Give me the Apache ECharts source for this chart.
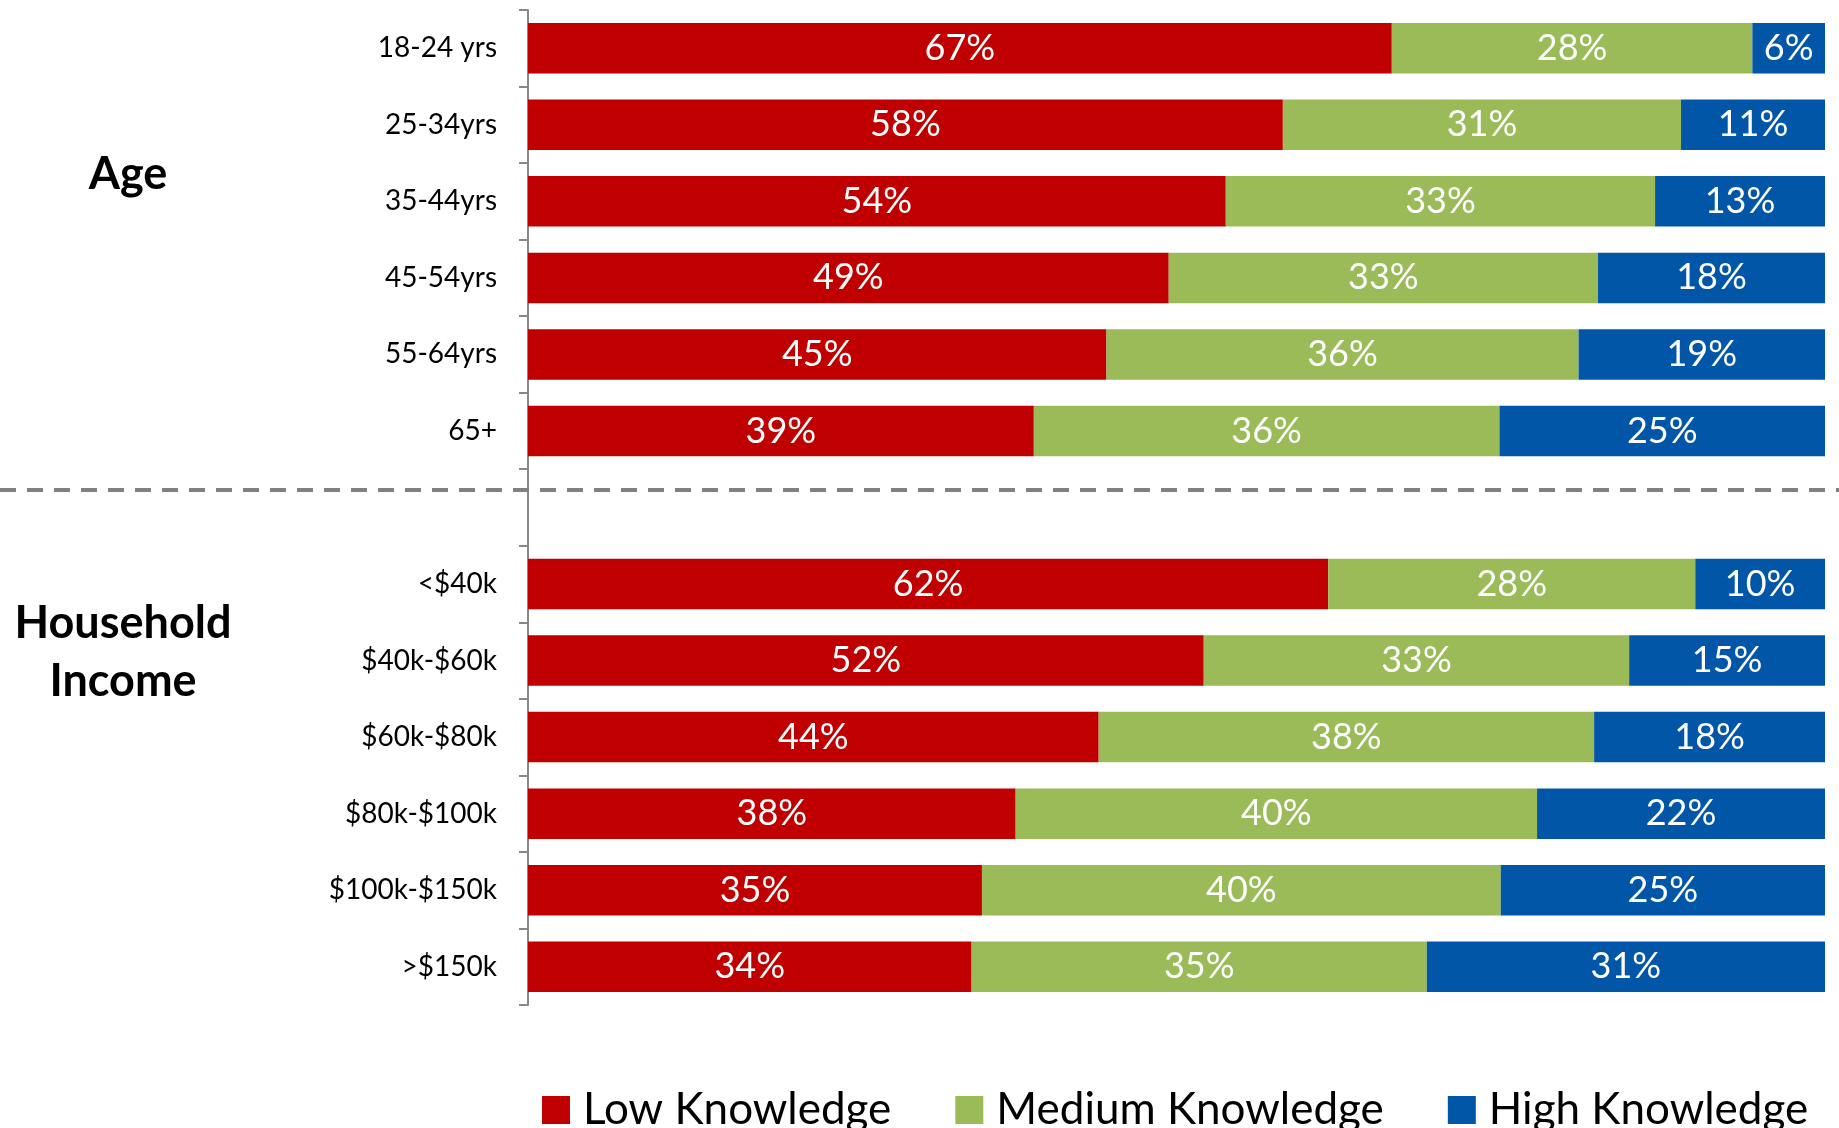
<!DOCTYPE html>
<html>
<head>
<meta charset="utf-8">
<script src="https://cdn.jsdelivr.net/npm/echarts@6/dist/echarts.min.js"></script>
<style>
html,body{margin:0;padding:0;background:#fff;}
#chart{width:1839px;height:1128px;}
</style>
</head>
<body>
<div id="chart"></div>
<script>
// Categories
const ageCats = ['18-24 yrs', '25-34yrs', '35-44yrs', '45-54yrs', '55-64yrs', '65+'];
const incomeCats = ['<$40k', '$40k-$60k', '$60k-$80k', '$80k-$100k', '$100k-$150k', '>$150k'];

// Series values (percent of row, 100% stacked)
const lowAge = [66.6, 58.2, 53.8, 49.4, 44.6, 39.0];
const medAge = [27.8, 30.7, 33.1, 33.1, 36.4, 35.9];
const highAge = [5.6, 11.1, 13.1, 17.5, 19.0, 25.1];

const lowIncome = [61.7, 52.1, 44.0, 37.6, 35.0, 34.2];
const medIncome = [28.3, 32.8, 38.2, 40.2, 40.0, 35.1];
const highIncome = [10.0, 15.1, 17.8, 22.2, 25.0, 30.7];

const seriesNames = ['Low Knowledge', 'Medium Knowledge', 'High Knowledge'];
const groupTitles = ['Age', 'Household\nIncome'];

const categories = ageCats.concat([''], incomeCats);
const join = (a, b) => a.concat([null], b);

const colors = ['#C00000', '#9BBB59', '#0256A8'];
const FONT = 'Lato';

const chart = echarts.init(document.getElementById('chart'));

function mkSeries(name, data, color) {
  return {
    name: name,
    type: 'bar',
    stack: 'total',
    data: data,
    barWidth: '66%',
    itemStyle: { color: color },
    label: {
      show: true,
      position: 'inside',
      color: '#fff',
      fontFamily: FONT,
      fontSize: 36,
      formatter: p => (p.value == null ? '' : Math.round(p.value) + '%')
    }
  };
}

chart.setOption({
  animation: false,
  color: colors,
  grid: { left: 528, right: 14, top: 10, bottom: 123, containLabel: false },
  xAxis: {
    type: 'value', min: 0, max: 100,
    show: false
  },
  yAxis: {
    type: 'category',
    inverse: true,
    data: categories,
    axisLine: { show: true, lineStyle: { color: '#888888', width: 2 } },
    axisTick: { show: true, length: 9, lineStyle: { color: '#888888', width: 2 } },
    axisLabel: { color: '#000', fontFamily: FONT, fontSize: 28, margin: 31 },
    splitLine: { show: false }
  },
  legend: {
    data: seriesNames,
    left: 537,
    top: 1083,
    itemWidth: 28,
    itemHeight: 28,
    itemGap: 64,
    icon: 'rect',
    textStyle: { fontFamily: FONT, fontSize: 44, color: '#000', padding: [0, 0, 0, 8] }
  },
  series: [
    mkSeries(seriesNames[0], join(lowAge, lowIncome), colors[0]),
    mkSeries(seriesNames[1], join(medAge, medIncome), colors[1]),
    mkSeries(seriesNames[2], join(highAge, highIncome), colors[2])
  ],
  graphic: [
    {
      type: 'line',
      shape: { x1: 0, y1: 490, x2: 1839, y2: 490 },
      style: { stroke: '#808080', lineWidth: 4, lineDash: [16, 11] },
      z: 100
    },
    {
      type: 'text',
      style: {
        text: groupTitles[0], x: 128, y: 174,
        textAlign: 'center', textVerticalAlign: 'middle',
        fontFamily: FONT, fontWeight: 'bold', fontSize: 45, fill: '#000'
      }
    },
    {
      type: 'text',
      style: {
        text: groupTitles[1], x: 123, y: 652,
        textAlign: 'center', textVerticalAlign: 'middle',
        fontFamily: FONT, fontWeight: 'bold', fontSize: 45, lineHeight: 58, fill: '#000'
      }
    }
  ]
});
</script>
</body>
</html>
